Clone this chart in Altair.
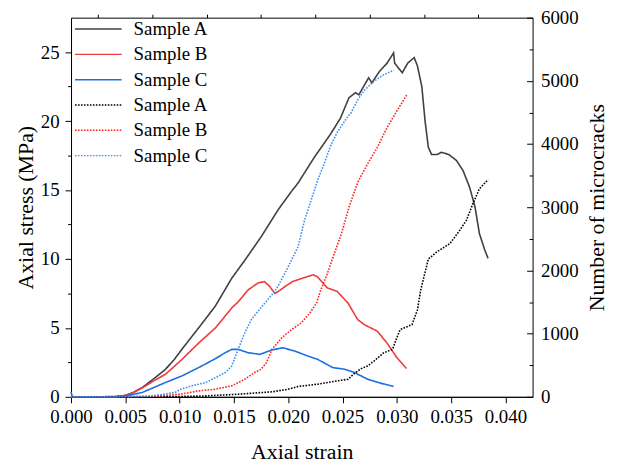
import altair as alt
import pandas as pd

# ---- Axial stress curves (left axis) ----
strain_A_s = [0, 0.002, 0.004, 0.005, 0.0057, 0.00657, 0.0076, 0.0087, 0.0095, 0.0102, 0.01175, 0.01327,
              0.0148, 0.016, 0.0175, 0.0191, 0.0203, 0.0209, 0.0224, 0.0239, 0.0248, 0.0256, 0.0262, 0.0265,
              0.0274, 0.0277, 0.0284, 0.0291, 0.0297, 0.0298, 0.0305, 0.031, 0.0316, 0.0319, 0.0323, 0.0326,
              0.0329, 0.0332, 0.0337, 0.0341, 0.0348, 0.0355, 0.0361, 0.0367, 0.0372, 0.0376, 0.0381, 0.0384]
stress_A = [0, 0, 0.02, 0.1, 0.3, 0.68, 1.3, 2.0, 2.7, 3.44, 5.0, 6.56,
            8.6, 9.9, 11.6, 13.6, 14.9, 15.5, 17.37, 19.06, 20.2, 21.7, 22.06, 21.9,
            23.14, 22.78, 23.6, 24.2, 24.94, 24.2, 23.5, 24.2, 24.6, 23.99, 22.5, 20.0,
            18.1, 17.57, 17.57, 17.73, 17.57, 17.13, 16.4, 15.2, 13.77, 11.85, 10.64, 10.04]

strain_B_s = [0, 0.004, 0.005, 0.0057, 0.00657, 0.0076, 0.0087, 0.0102, 0.01175, 0.0133, 0.0148, 0.0154,
              0.0163, 0.0172, 0.0178, 0.0183, 0.01876, 0.0191, 0.0197, 0.0204, 0.0213, 0.0223, 0.0227,
              0.0232, 0.0236, 0.0245, 0.0255, 0.0264, 0.027, 0.0282, 0.0291, 0.03, 0.0309]
stress_B = [0, 0, 0.1, 0.3, 0.65, 1.15, 1.64, 2.7, 3.9, 5.0, 6.45, 6.9,
            7.75, 8.25, 8.36, 8.0, 7.5, 7.65, 8.0, 8.36, 8.6, 8.85, 8.7,
            8.25, 7.9, 7.65, 6.8, 5.6, 5.24, 4.76, 3.9, 2.84, 2.05]

strain_C_s = [0, 0.0001, 0.0003, 0.004, 0.005, 0.00657, 0.0087, 0.0102, 0.01175, 0.0133, 0.0142, 0.0148,
              0.0154, 0.0163, 0.0174, 0.01845, 0.0195, 0.0206, 0.0218, 0.0227, 0.0241, 0.0252, 0.0261,
              0.0273, 0.0285, 0.0297]
stress_C = [0.35, 0.05, 0, 0, 0.05, 0.32, 1.04, 1.51, 2.12, 2.77, 3.2, 3.44,
            3.44, 3.2, 3.08, 3.39, 3.56, 3.32, 2.96, 2.72, 2.12, 2.0, 1.76,
            1.28, 0.99, 0.75]

# ---- Number of microcracks (right axis) ----
strain_A_c = [0, 0.006, 0.01, 0.0125, 0.0154, 0.0185, 0.02, 0.0209, 0.0227, 0.0245, 0.0255, 0.0261, 0.0267,
              0.0273, 0.0279, 0.0288, 0.0296, 0.03, 0.0303, 0.0314, 0.0319, 0.0322, 0.0329, 0.0337, 0.0349,
              0.0358, 0.0364, 0.037, 0.0376, 0.0384]
cracks_A = [0, 0, 5, 15, 42, 79, 121, 163, 200, 252, 278, 372, 446,
            487, 566, 698, 750, 934, 1064, 1143, 1379, 1693, 2180, 2295, 2427,
            2636, 2793, 3055, 3291, 3438]

strain_B_c = [0, 0.005, 0.0075, 0.01, 0.01175, 0.0133, 0.0148, 0.016, 0.0169, 0.0175, 0.018, 0.0185, 0.0194,
              0.0203, 0.0212, 0.022, 0.0226, 0.023, 0.0235, 0.0239, 0.0249, 0.0256, 0.0264, 0.0273, 0.0282,
              0.0291, 0.03, 0.0309]
cracks_B = [0, 0, 8, 40, 94, 121, 173, 278, 384, 435, 541, 750, 934,
            1064, 1170, 1327, 1484, 1693, 1902, 2100, 2584, 3003, 3395, 3684, 3946,
            4261, 4523, 4774]

strain_C_c = [0, 0.005, 0.0075, 0.0096, 0.0101, 0.0111, 0.0124, 0.0133, 0.0142, 0.0148, 0.0154, 0.016, 0.0166,
              0.0172, 0.0181, 0.01876, 0.01937, 0.02, 0.0209, 0.0215, 0.0221, 0.0227, 0.0233, 0.0239, 0.0245,
              0.0252, 0.0258, 0.0264, 0.027, 0.0279, 0.0288, 0.0297]
cracks_C = [0, 0, 15, 70, 120, 173, 226, 305, 384, 487, 760, 1012, 1221,
            1350, 1536, 1666, 1850, 2060, 2374, 2793, 3108, 3422, 3684, 3970, 4182,
            4366, 4500, 4700, 4850, 4994, 5099, 5167]

series_order = ["A_stress", "B_stress", "C_stress", "A_cracks", "B_cracks", "C_cracks"]
series_colors = ["#404040", "#ee3b3b", "#1c6fe3", "#000000", "#ff2020", "#3d8ff2"]
series_dashes = [[1, 0], [1, 0], [1, 0], [1.6, 1.4], [1.6, 1.4], [1.6, 1.4]]

x_ticks = [0, 0.005, 0.01, 0.015, 0.02, 0.025, 0.03, 0.035, 0.04]
x_minor = [0.0025, 0.0075, 0.0125, 0.0175, 0.0225, 0.0275, 0.0325, 0.0375]
y1_ticks = [0, 5, 10, 15, 20, 25]
y1_minor = [2.5, 7.5, 12.5, 17.5, 22.5]
y2_ticks = [0, 1000, 2000, 3000, 4000, 5000, 6000]
y2_minor = [500, 1500, 2500, 3500, 4500, 5500]

X_DOMAIN = [0, 0.0425]
Y1_DOMAIN = [0, 27.5]
Y2_DOMAIN = [0, 6000]


def frame(xs, ys, name):
    return pd.DataFrame({"strain": xs, "value": ys, "series": name})


stress_df = pd.concat([
    frame(strain_A_s, stress_A, "A_stress"),
    frame(strain_B_s, stress_B, "B_stress"),
    frame(strain_C_s, stress_C, "C_stress"),
], ignore_index=True)
crack_df = pd.concat([
    frame(strain_A_c, cracks_A, "A_cracks"),
    frame(strain_B_c, cracks_B, "B_cracks"),
    frame(strain_C_c, cracks_C, "C_cracks"),
], ignore_index=True)

FONT = "Liberation Serif"

# wide horizontal line symbol (path in [-3,3] units, scaled by sqrt(size)/2)
legend = alt.Legend(
    title=None, orient="none", legendX=18, legendY=2, padding=0,
    labelExpr="'Sample ' + substring(datum.label, 0, 1)",
    symbolType="M-3,0H3", symbolSize=245, symbolStrokeWidth=1.5,
    symbolFillColor="transparent",
    labelFontSize=19, labelFont=FONT, labelColor="black",
    labelOffset=26, rowPadding=5.5,
)

color = alt.Color("series:N", scale=alt.Scale(domain=series_order, range=series_colors), legend=legend)
dash = alt.StrokeDash("series:N", scale=alt.Scale(domain=series_order, range=series_dashes), legend=legend)

xscale = alt.Scale(domain=X_DOMAIN, nice=False, zero=False)
y1scale = alt.Scale(domain=Y1_DOMAIN, nice=False)
y2scale = alt.Scale(domain=Y2_DOMAIN, nice=False)

stress_layer = alt.Chart(stress_df).mark_line(strokeWidth=1.6).encode(
    x=alt.X("strain:Q", scale=xscale, axis=alt.Axis(
        values=x_ticks, format=".3f", title="Axial strain", tickSize=6, labelPadding=5,
        titlePadding=15, grid=False)),
    y=alt.Y("value:Q", scale=y1scale, axis=alt.Axis(
        values=y1_ticks, format="d", title="Axial stress (MPa)", tickSize=6, labelPadding=6,
        titlePadding=3, grid=False)),
    color=color, strokeDash=dash, detail="series:N",
)

crack_layer = alt.Chart(crack_df).mark_line(strokeWidth=1.6).encode(
    x=alt.X("strain:Q", scale=xscale, axis=None),
    y=alt.Y("value:Q", scale=y2scale, axis=alt.Axis(
        orient="right", values=y2_ticks, format="d", title="Number of microcracks",
        ticks=False, domain=False, labelPadding=8, titlePadding=8, grid=False,
        titleAngle=270, titleBaseline="top")),
    color=color, strokeDash=dash, detail="series:N",
)

minor_left_bottom = alt.Chart(stress_df).mark_line(opacity=0).encode(
    x=alt.X("strain:Q", scale=xscale, axis=alt.Axis(
        values=x_minor, labels=False, tickSize=3.5, domain=False, title=None, grid=False)),
    y=alt.Y("value:Q", scale=y1scale, axis=alt.Axis(
        orient="left", values=y1_minor, labels=False, tickSize=3.5, domain=False, title=None, grid=False)),
    detail="series:N",
)

right_major_ticks = alt.Chart(crack_df).mark_line(opacity=0).encode(
    x=alt.X("strain:Q", scale=xscale, axis=None),
    y=alt.Y("value:Q", scale=y2scale, axis=alt.Axis(
        orient="right", values=y2_ticks, labels=False, tickSize=6, offset=-6, domain=False,
        title=None, grid=False)),
    detail="series:N",
)

right_minor_ticks = alt.Chart(crack_df).mark_line(opacity=0).encode(
    x=alt.X("strain:Q", scale=xscale, axis=None),
    y=alt.Y("value:Q", scale=y2scale, axis=alt.Axis(
        orient="right", values=y2_minor, labels=False, tickSize=3.5, offset=-3.5, domain=False,
        title=None, grid=False)),
    detail="series:N",
)

chart = alt.layer(
    stress_layer, crack_layer, minor_left_bottom, right_major_ticks, right_minor_ticks
).resolve_scale(
    x="independent", y="independent"
).properties(
    width=465, height=382,
    autosize=alt.AutoSizeParams(type="none"),
    padding={"left": 63.5, "top": 8, "right": 80, "bottom": 72},
    background="white",
).configure_view(
    stroke="black", strokeWidth=1
).configure_axis(
    labelFont=FONT, titleFont=FONT, labelFontSize=19, titleFontSize=22,
    titleFontWeight="normal", labelColor="black", titleColor="black",
    domainColor="black", tickColor="black", domainWidth=1, tickWidth=1,
    labelFlush=False, labelOverlap=False,
)

chart.save("out.html", embed_options={"renderer": "svg", "actions": False})
